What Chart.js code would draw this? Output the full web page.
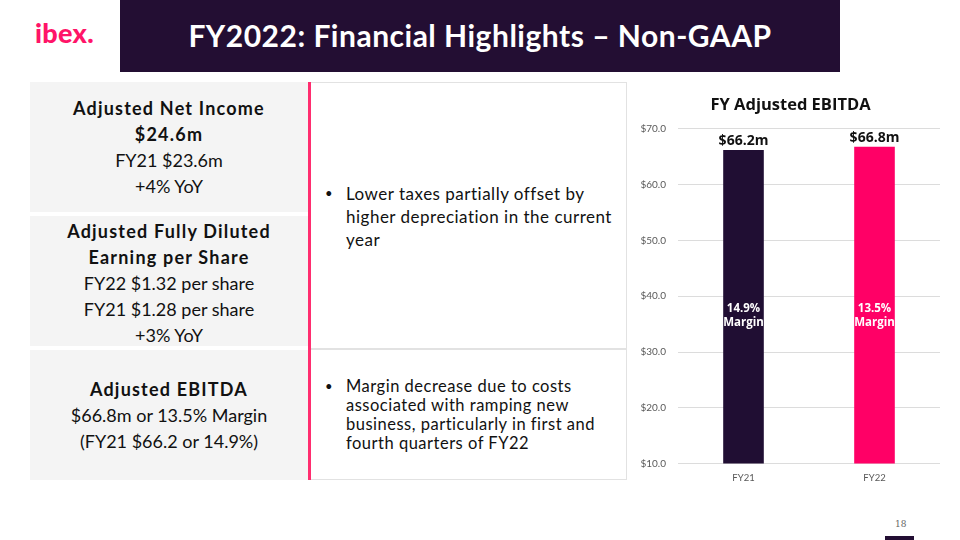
<!DOCTYPE html>
<html>
<head>
<meta charset="utf-8">
<script src="https://cdn.jsdelivr.net/npm/chart.js@4.4.1/dist/chart.umd.min.js"></script>
<style>
  html, body { margin: 0; padding: 0; }
  body { width: 960px; height: 540px; position: relative; background: #fff; font-family: "Lato", "Open Sans", sans-serif; color: #111; overflow: hidden; }
  .logo { position: absolute; left: 35px; top: 16px; font: 900 27px "Lato", sans-serif; color: #ff1468; letter-spacing: 0.3px; }
  .header { position: absolute; left: 120px; top: 0; width: 720px; height: 72px; background: #230e33; color: #fff; font: 700 30px "Lato", sans-serif; letter-spacing: 0.5px; text-align: center; line-height: 70px; }
  .box { position: absolute; box-sizing: border-box; }
  .gray { background: #f4f4f4; left: 30px; width: 278px; text-align: center; font-size: 18px; line-height: 26px; display: flex; flex-direction: column; justify-content: center; }
  .gray b { font-weight: 700; letter-spacing: 1.2px; }
  .pinkline { position: absolute; left: 308px; top: 82px; width: 3px; height: 398px; background: #ff2d6f; }
  .mid { left: 311px; width: 316px; background: #fff; border: 1px solid #e2e2e2; border-left: none; letter-spacing: 0.5px; }
  .mid ul { margin: 0; padding: 0 8px 0 35px; list-style: none; }
  .mid li { position: relative; }
  .mid li::before { content: "\2022"; position: absolute; left: -21px; font-size: 13px; }
  .pageno { position: absolute; left: 895px; top: 519px; font: 9px "DejaVu Serif", serif; color: #666; }
  .pagebar { position: absolute; left: 885px; top: 536px; width: 29px; height: 4px; background: #230e33; }
  #chartWrap { position: absolute; left: 641px; top: 88px; width: 299px; height: 401px; }
</style>
</head>
<body>
<div class="logo">ibex.</div>
<div class="header">FY2022: Financial Highlights – Non-GAAP</div>

<div class="box gray" style="top:82px;height:130px;">
  <div><b>Adjusted Net Income</b></div>
  <div><b>$24.6m</b></div>
  <div>FY21 $23.6m</div>
  <div>+4% YoY</div>
</div>
<div class="box gray" style="top:216px;height:130px;padding-top:4px;">
  <div><b>Adjusted Fully Diluted</b></div>
  <div><b>Earning per Share</b></div>
  <div>FY22 $1.32 per share</div>
  <div>FY21 $1.28 per share</div>
  <div>+3% YoY</div>
</div>
<div class="box gray" style="top:350px;height:130px;">
  <div><b>Adjusted EBITDA</b></div>
  <div>$66.8m or 13.5% Margin</div>
  <div>(FY21 $66.2 or 14.9%)</div>
</div>
<div class="pinkline"></div>

<div class="box mid" style="top:82px;height:267px;font-size:17px;line-height:23px;padding-top:99px;">
  <ul><li>Lower taxes partially offset by higher depreciation in the current year</li></ul>
</div>
<div class="box mid" style="top:349px;height:131px;font-size:16.5px;line-height:19px;padding-top:27px;">
  <ul><li>Margin decrease due to costs associated with ramping new business, particularly in first and fourth quarters of FY22</li></ul>
</div>

<div id="chartWrap"><canvas id="ebitdaChart"></canvas></div>

<div class="pageno">18</div>
<div class="pagebar"></div>

<script>
const categories = ['FY21', 'FY22'];
const ebitdaValues = [66.2, 66.8];
const valueLabels = ['$66.2m', '$66.8m'];
const marginLabels = ['14.9%', '13.5%'];
const barColors = ['#200e33', '#ff0066'];
const yTicks = [10, 20, 30, 40, 50, 60, 70];

const barLabelPlugin = {
  id: 'barLabels',
  afterDatasetsDraw(chart) {
    const ctx = chart.ctx;
    const meta = chart.getDatasetMeta(0);
    const yScale = chart.scales.y;
    ctx.save();
    ctx.textAlign = 'center';
    meta.data.forEach((bar, i) => {
      // value on top of bar
      ctx.fillStyle = '#111';
      ctx.font = '700 14px "Open Sans", sans-serif';
      ctx.textBaseline = 'bottom';
      ctx.fillText(valueLabels[i], bar.x, bar.y - 2);
      // margin inside the bar
      ctx.fillStyle = '#fff';
      ctx.font = '700 11.5px "Open Sans", sans-serif';
      ctx.textBaseline = 'middle';
      const midY = yScale.getPixelForValue(36.5);
      ctx.fillText(marginLabels[i], bar.x, midY - 7);
      ctx.fillText('Margin', bar.x, midY + 7);
    });
    ctx.restore();
  }
};

new Chart(document.getElementById('ebitdaChart'), {
  type: 'bar',
  data: {
    labels: categories,
    datasets: [{
      data: ebitdaValues,
      backgroundColor: barColors,
      borderWidth: 0,
      barPercentage: 0.62,
      categoryPercentage: 0.5
    }]
  },
  options: {
    responsive: true,
    maintainAspectRatio: false,
    animation: false,
    layout: { padding: { left: 0, right: 0, top: 0, bottom: 4 } },
    plugins: {
      legend: { display: false },
      tooltip: { enabled: false },
      title: {
        display: true,
        text: 'FY Adjusted EBITDA',
        color: '#111',
        font: { family: 'Open Sans', size: 16.5, weight: '700' },
        padding: { top: 7, bottom: 14 }
      }
    },
    scales: {
      y: {
        min: 10,
        max: 70,
        afterBuildTicks: axis => { axis.ticks = yTicks.map(v => ({ value: v })); },
        afterFit: axis => { axis.width = 37; },
        border: { display: false },
        grid: { color: '#dcdcdc', lineWidth: 1, drawTicks: false },
        ticks: {
          padding: 12,
          color: '#595959',
          font: { family: 'Lato', size: 10 },
          callback: v => '$' + Number(v).toFixed(1)
        }
      },
      x: {
        border: { display: false },
        grid: { display: false },
        ticks: { color: '#595959', font: { family: 'Lato', size: 9.5 }, padding: 1 }
      }
    }
  },
  plugins: [barLabelPlugin]
});
</script>
</body>
</html>
